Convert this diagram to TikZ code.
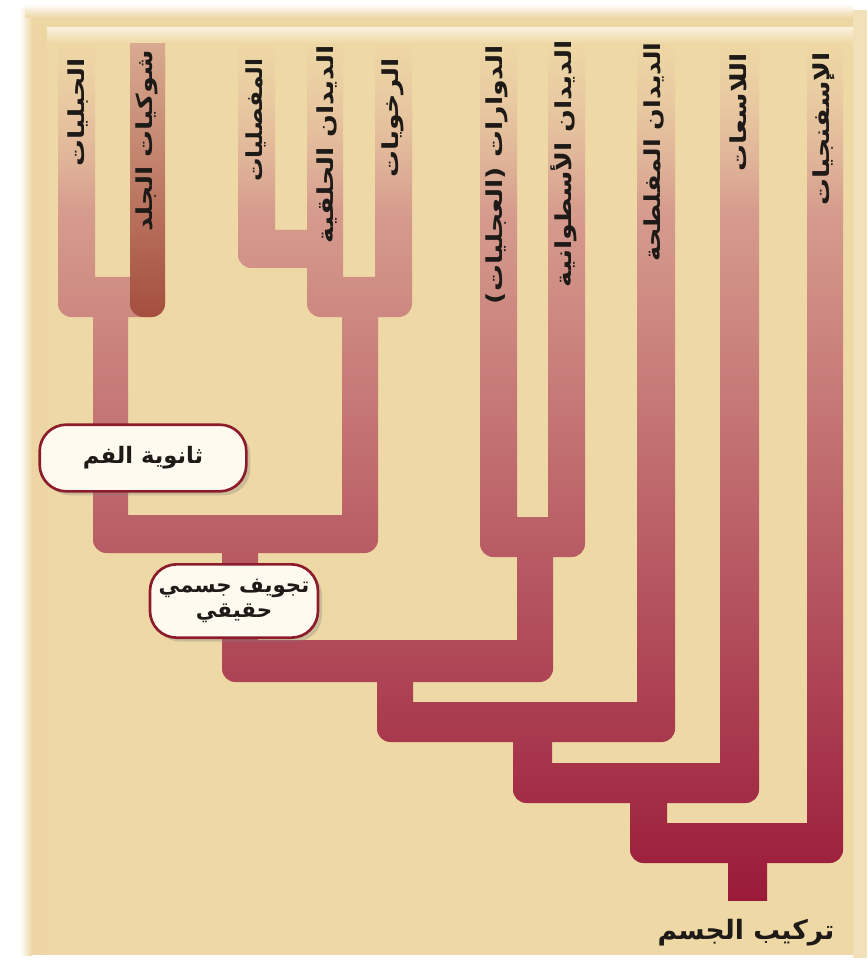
\documentclass[tikz,border=0pt]{standalone}
\usepackage{fontspec}
\usetikzlibrary{shadows,fadings}
\newfontfamily\arabicfont[Script=Arabic]{DejaVu Sans}
\newfontfamily\arlab[Script=Arabic, FakeStretch=1.22]{DejaVu Sans}
\TeXXeTstate=1
\definecolor{bg}{HTML}{EED8A5}
\definecolor{bgframe}{HTML}{EDD6A3}
\definecolor{bgedge}{HTML}{F2E0B9}
\definecolor{cream}{HTML}{FAF0DA}
\definecolor{bartop}{HTML}{E5BCA2}
\definecolor{barbot}{HTML}{9A1A3A}
\definecolor{echtop}{HTML}{D9AA90}
\definecolor{echbot}{HTML}{A44E3E}
\definecolor{boxline}{HTML}{8C1C2C}
\definecolor{boxfill}{HTML}{FFFAF0}
\definecolor{txt}{HTML}{1E1A18}
\tikzfading[name=fadetop, top color=transparent!0, bottom color=transparent!100]
\tikzset{
  br/.style={path picture={\shade[top color=bartop, bottom color=barbot] (0,40) rectangle (867,900);}},
  ech/.style={path picture={\shade[top color=echtop, bottom color=echbot] (130,43) rectangle (165,317);}},
  lab/.style={rotate=90, anchor=east, inner sep=0pt, text=txt,
              font=\arlab\bfseries\fontsize{16.5}{18}\selectfont},
  tbox/.style={draw=boxline, line width=2pt, fill=boxfill, rounded corners=20pt,
               text=txt, align=center, inner sep=2pt,
               font=\arabicfont\bfseries\fontsize{16}{19}\selectfont,
               drop shadow={shadow xshift=3pt, shadow yshift=-3pt, opacity=0.3}},
}
\begin{document}
\begin{tikzpicture}[x=0.75pt,y=-0.75pt]
\useasboundingbox (0,0) rectangle (867,962);
% background panel
\fill[white] (0,0) rectangle (867,962);
\fill[bgedge] (853,10) rectangle (867,958);
\fill[bgframe] (25,10) rectangle (853,955);
\shade[left color=white, right color=bgframe] (20,10) rectangle (32,955);
\shade[top color=white, bottom color=bgframe] (25,4) rectangle (853,18);
\fill[bg] (47,28) rectangle (853,955);
% tree branches (one global vertical gradient)
\path[br, rounded corners=10pt]
  (58,40) rectangle (95,317)
  (58,277) rectangle (165,317)
  (93,290) rectangle (128,553)
  (238,40) rectangle (275,268)
  (238,230) rectangle (343,268)
  (307,40) rectangle (343,317)
  (307,277) rectangle (412,317)
  (375,40) rectangle (412,317)
  (342,290) rectangle (378,553)
  (93,515) rectangle (378,553)
  (222,530) rectangle (258,682)
  (480,40) rectangle (517,557)
  (548,40) rectangle (585,557)
  (480,517) rectangle (585,557)
  (517,530) rectangle (553,682)
  (222,640) rectangle (553,682)
  (377,660) rectangle (413,742)
  (377,702) rectangle (675,742)
  (637,40) rectangle (675,742)
  (513,720) rectangle (552,803)
  (513,763) rectangle (759,803)
  (720,40) rectangle (759,803)
  (630,780) rectangle (667,863)
  (630,823) rectangle (843,863)
  (807,40) rectangle (843,863);
\path[br] (728,840) rectangle (767,900);
% fade of the branch tops into the background
\fill[bg, path fading=fadetop] (47,40) rectangle (853,210);
% echinoderm branch (darker)
\path[ech, rounded corners=10pt] (130,43) rectangle (165,317);
\path[ech] (130,43) rectangle (165,90);
% light band at the top
\shade[top color=cream, bottom color=bg] (47,28) rectangle (853,43);
% taxon labels
\node[lab] (chor) at (78,58)  {\beginR الحبليات\endR};
\node[lab] (echi) at (147,50) {\beginR شوكيات الجلد\endR};
\node[lab] (arth) at (256,58) {\scalebox{0.87}[1]{\beginR المفصليات\endR}};
\node[lab] (anne) at (327,45) {\beginR الديدان الحلقية\endR};
\node[lab] (moll) at (393,58) {\beginR الرخويات\endR};
\node[lab] (roti) at (497,45) {\beginR الدوارات (العجليات)\endR};
\node[lab] (nema) at (564,40) {\beginR الديدان الأسطوانية\endR};
\node[lab] (flat) at (654,42) {\scalebox{0.95}[1]{\beginR الديدان المفلطحة\endR}};
\node[lab] (cnid) at (738,53) {\beginR اللاسعات\endR};
\node[lab] (spon) at (824,52) {\beginR الإسفنجيات\endR};
% character boxes
\node[tbox, minimum width=155pt, minimum height=50pt, font=\arabicfont\bfseries\fontsize{17}{20}\selectfont]
  (deut) at (143,458) {\beginR ثانوية الفم\endR};
\node[tbox, minimum width=126pt, minimum height=55pt] (coel) at (234,601)
  {\beginR تجويف جسمي\endR\\\beginR حقيقي\endR};
% root label
\node[text=txt, inner sep=0pt, font=\arabicfont\bfseries\fontsize{20}{23}\selectfont]
  (root) at (746,933) {\beginR تركيب الجسم\endR};
\end{tikzpicture}
\end{document}
